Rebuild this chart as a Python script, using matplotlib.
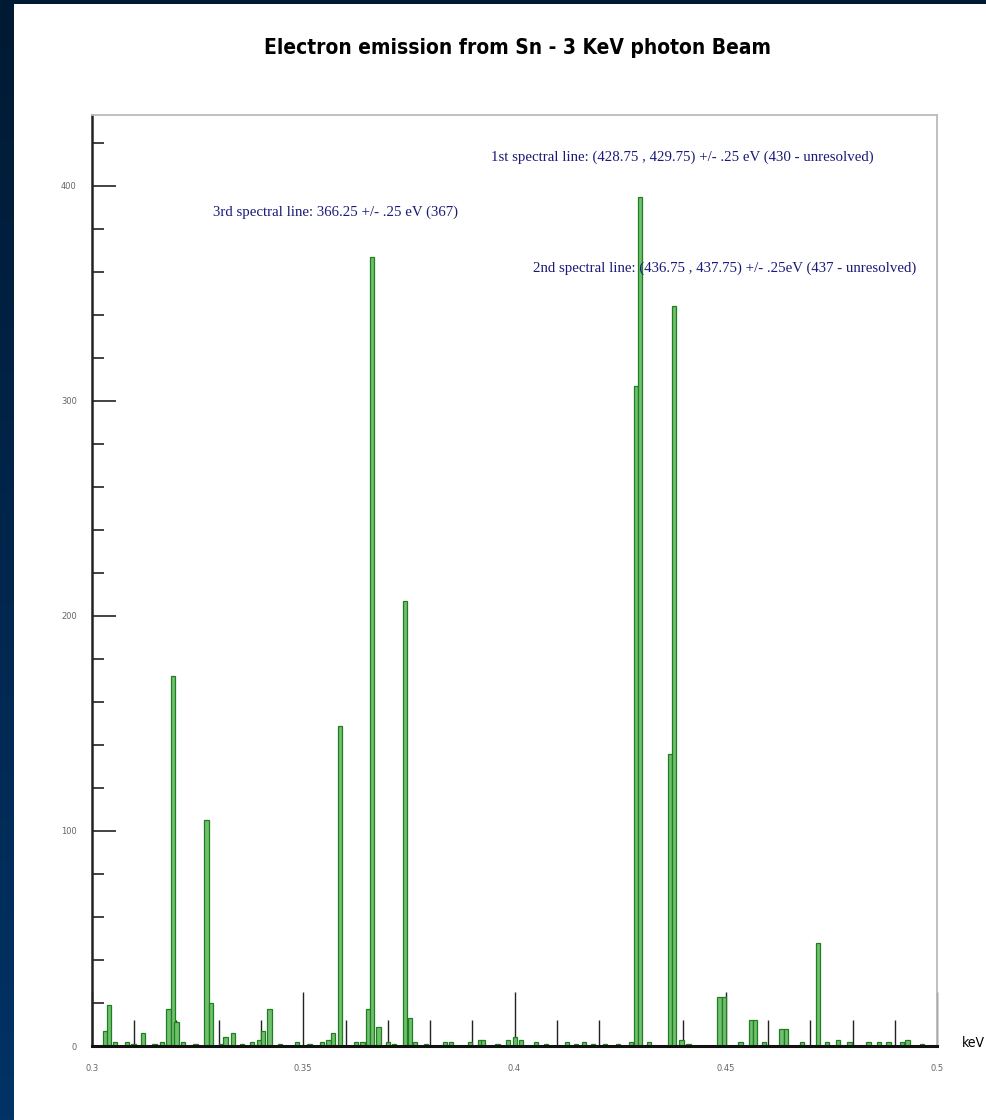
import numpy as np
import matplotlib
matplotlib.use("Agg")
import matplotlib.pyplot as plt
from matplotlib.ticker import FixedLocator, FixedFormatter, MultipleLocator
from matplotlib.colors import LinearSegmentedColormap

# ---------------- data ----------------
energy_kev = [0.3031, 0.3041, 0.3055, 0.3082, 0.3098, 0.3120, 0.3148, 0.3165, 0.3181, 0.3192,
              0.3200, 0.3215, 0.3245, 0.3271, 0.3282, 0.3305, 0.3316, 0.3333, 0.3355, 0.3378,
              0.3395, 0.3405, 0.3420, 0.3445, 0.3485, 0.3515, 0.3545, 0.3560, 0.3571, 0.3587,
              0.3625, 0.3640, 0.3654, 0.3662, 0.3678, 0.3700, 0.3715, 0.3741, 0.3753, 0.3765,
              0.3790, 0.3835, 0.3850, 0.3895, 0.3918, 0.3925, 0.3960, 0.3985, 0.4002, 0.4015,
              0.4050, 0.4075, 0.4125, 0.4145, 0.4165, 0.4185, 0.4215, 0.4245, 0.4275, 0.42875,
              0.42975, 0.4318, 0.43675, 0.43775, 0.4395, 0.4412, 0.4485, 0.4495, 0.4535, 0.4560,
              0.4570, 0.4590, 0.4632, 0.4643, 0.4680, 0.4718, 0.4740, 0.4765, 0.4793, 0.4838,
              0.4862, 0.4885, 0.4918, 0.4930, 0.4965]
counts = [7, 19, 2, 2, 1, 6, 1, 2, 17, 172,
          11, 2, 1, 105, 20, 1, 4, 6, 1, 2,
          3, 7, 17, 1, 2, 1, 2, 3, 6, 149,
          2, 2, 17, 367, 9, 2, 1, 207, 13, 2,
          1, 2, 2, 2, 3, 3, 1, 3, 4, 3,
          2, 1, 2, 1, 2, 1, 1, 1, 2, 307,
          395, 2, 136, 344, 3, 1, 23, 23, 2, 12,
          12, 2, 8, 8, 2, 48, 2, 3, 2, 2,
          2, 2, 2, 3, 1]

xtick_values = [0.3, 0.35, 0.4, 0.45, 0.5]
xtick_labels = ['0.3', '0.35', '0.4', '0.45', '0.5']
ytick_values = [0, 100, 200, 300, 400]
ytick_labels = ['0', '100', '200', '300', '400']

title = "Electron emission from Sn - 3 KeV photon Beam"
x_unit = "keV"
notes = [
    "1st spectral line: (428.75 , 429.75) +/- .25 eV (430 - unresolved)",
    "2nd spectral line: (436.75 , 437.75) +/- .25eV (437 - unresolved)",
    "3rd spectral line: 366.25 +/- .25 eV (367)",
]

# ---------------- figure ----------------
W, H = 986, 1120
fig = plt.figure(figsize=(W / 100, H / 100), dpi=100, facecolor='white')

# dark blue frame strips (left gradient + top band)
strip = fig.add_axes([0, 0, 14 / W, 1])
grad = np.linspace(0, 1, 256).reshape(-1, 1)
cm = LinearSegmentedColormap.from_list('bg', ['#001a33', '#00264d', '#003366'])
strip.imshow(grad, aspect='auto', cmap=cm, extent=[0, 1, 0, 1], origin='upper')
strip.set_axis_off()
top = fig.add_axes([0, 1 - 4 / H, 1, 4 / H])
top.set_facecolor('#001a33')
top.set_xticks([]); top.set_yticks([])
for s in top.spines.values():
    s.set_visible(False)

ax = fig.add_axes([92 / W, 1 - 1046 / H, (937 - 92) / W, (1046 - 115) / H])
ax.bar(energy_kev, counts, width=0.001, color='#70c070', edgecolor='#1f7f1f',
       linewidth=0.9, align='center', zorder=2)

ax.set_xlim(0.3, 0.5)
ax.set_ylim(0, 433)

ax.xaxis.set_major_locator(FixedLocator(xtick_values))
ax.xaxis.set_major_formatter(FixedFormatter(xtick_labels))
ax.xaxis.set_minor_locator(MultipleLocator(0.01))
ax.yaxis.set_major_locator(FixedLocator(ytick_values))
ax.yaxis.set_major_formatter(FixedFormatter(ytick_labels))
ax.yaxis.set_minor_locator(MultipleLocator(20))

ax.tick_params(axis='x', which='major', direction='in', length=38.9, width=1.0,
               color='#222222', labelsize=6, labelcolor='#666666', pad=13, top=False)
ax.tick_params(axis='x', which='minor', direction='in', length=18.7, width=1.0,
               color='#222222', top=False)
ax.tick_params(axis='y', which='major', direction='in', length=17.3, width=1.2,
               color='#222222', labelsize=6, labelcolor='#666666', pad=11, right=False)
ax.tick_params(axis='y', which='minor', direction='in', length=8.6, width=1.2,
               color='#222222', right=False)

ax.spines['left'].set_linewidth(1.8)
ax.spines['left'].set_color('#222222')
ax.spines['bottom'].set_linewidth(2.2)
ax.spines['bottom'].set_color('#111111')
ax.spines['top'].set_color('#bbbbbb')
ax.spines['right'].set_color('#bbbbbb')
ax.spines['top'].set_linewidth(1.3)
ax.spines['right'].set_linewidth(1.3)

fig.text(517 / W, 1 - 48 / H, title, ha='center', va='center', fontsize=15,
         family='DejaVu Sans', fontstretch='condensed', fontweight='bold', color='black')
fig.text(985 / W, 1 - 1043 / H, x_unit, ha='right', va='center', fontsize=10,
         family='DejaVu Sans', fontstretch='condensed', color='black')

note_color = '#1a1a78'
note_font = ['Liberation Serif', 'DejaVu Serif']
fig.text(491 / W, 1 - 157 / H, notes[0], ha='left', va='center', fontsize=10.7,
         family=note_font, color=note_color)
fig.text(533 / W, 1 - 268 / H, notes[1], ha='left', va='center', fontsize=10.7,
         family=note_font, color=note_color)
fig.text(213 / W, 1 - 212 / H, notes[2], ha='left', va='center', fontsize=10.7,
         family=note_font, color=note_color)

fig.savefig('out.png', dpi=100, facecolor='white')
